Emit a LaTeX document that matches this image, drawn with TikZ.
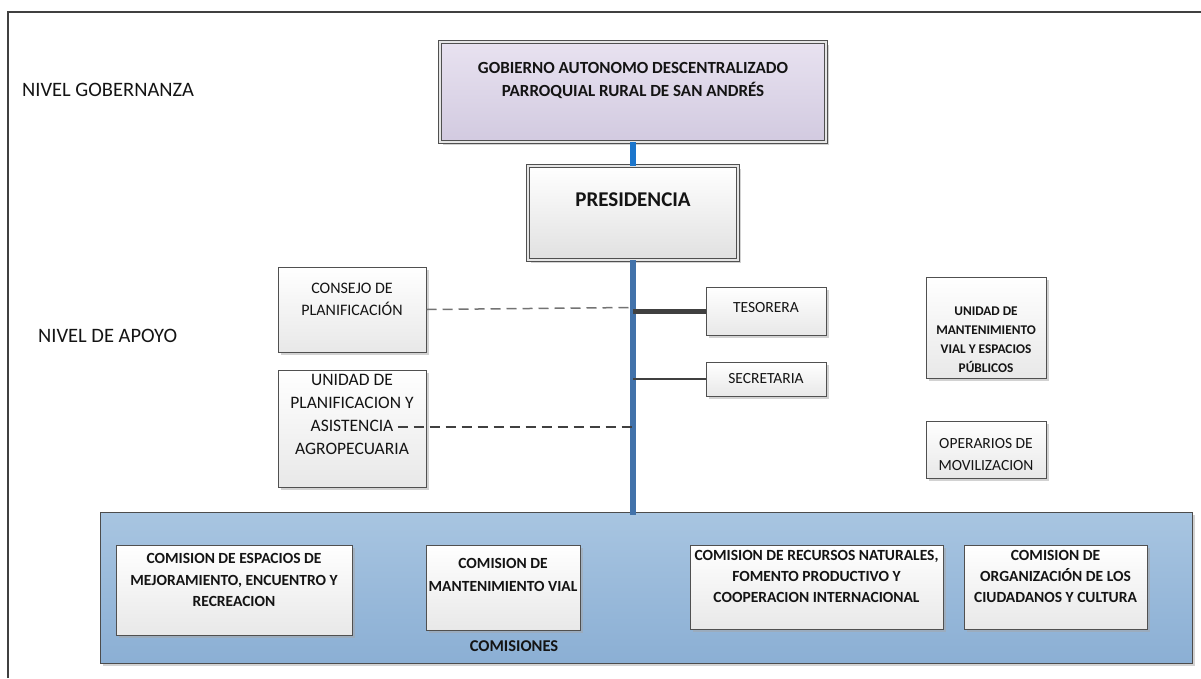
\documentclass[tikz,border=0pt]{standalone}
\usepackage{fontspec}
\setmainfont{Carlito}
\usetikzlibrary{calc,positioning,shadows}
\definecolor{lavanda}{RGB}{232,226,240}
\definecolor{lavandaosc}{RGB}{210,202,224}
\definecolor{azulcaja}{RGB}{168,197,225}
\definecolor{azulcajaosc}{RGB}{139,175,212}
\definecolor{azultronco}{RGB}{66,114,170}
\definecolor{azulclaro}{RGB}{28,118,204}
\definecolor{grisborde}{RGB}{80,80,80}
\tikzset{
  caja/.style={
    draw=grisborde,
    line width=1pt,
    top color=white,
    bottom color=black!9,
    drop shadow={shadow xshift=3pt, shadow yshift=-3pt, fill=black!35, opacity=.5},
    inner sep=0pt
  },
  cajadoble/.style={
    caja,
    double=white!90!black,
    double distance=2.5pt,
    line width=.9pt
  },
  rotb/.style 2 args={
    align=center,
    inner sep=0pt,
    text=black!92,
    font=\bfseries\fontsize{#1}{#2}\selectfont
  },
  rotr/.style 2 args={
    align=center,
    inner sep=0pt,
    text=black!92,
    font=\fontsize{#1}{#2}\selectfont
  },
  marco/.style={
    draw=black!75,
    line width=1.5pt
  },
  tronco/.style={
    line width=6pt,
    azultronco
  },
  rama/.style={
    line width=2.5pt,
    black!75
  },
  guion/.style={
    dash pattern=on 10pt off 6pt,
    line width=1.5pt
  }
}
\begin{document}
\begin{tikzpicture}[x=1pt,y=-1pt]
\useasboundingbox (0,0) rectangle (1201,678);
% marco
\draw[marco] (8,678) -- (8,12) -- (1201,12);
% niveles
\node[rotr={20.5}{24}, anchor=west] (gobernanza) at (22,90) {NIVEL GOBERNANZA};
\node[rotr={20.5}{24}, anchor=west] (apoyo) at (38,336) {NIVEL DE APOYO};
% nivel gobernanza
\node[cajadoble, top color=lavanda, bottom color=lavandaosc, minimum width=386pt, minimum height=100pt] (gad) at (633,92) {};
\node[rotb={17}{23}, below=21pt of gad.north] (gadtxt) {GOBIERNO AUTONOMO DESCENTRALIZADO\\PARROQUIAL RURAL DE SAN ANDRÉS};
\node[cajadoble, bottom color=black!12, minimum width=210pt, minimum height=94pt] (pres) at (633,213) {};
\node[rotb={21}{25}, below=27pt of pres.north] (prestxt) {PRESIDENCIA};
% nivel de apoyo
\node[caja, minimum width=148pt, minimum height=85pt] (consejo) at (352,309.5) {};
\node[rotr={16}{22}, below=16pt of consejo.north] (consejotxt) {CONSEJO DE\\PLANIFICACIÓN};
\node[caja, minimum width=148pt, minimum height=117pt] (upa) at (352,428.5) {};
\node[rotr={17.5}{23}, below=5pt of upa.north] (upatxt) {UNIDAD DE\\PLANIFICACION Y\\ASISTENCIA\\AGROPECUARIA};
\node[caja, minimum width=120pt, minimum height=48pt] (tes) at (766,311) {};
\node[rotr={15.5}{20}, below=16pt of tes.north] (testxt) {TESORERA};
\node[caja, minimum width=120pt, minimum height=34pt] (sec) at (766,379) {};
\node[rotr={15.5}{20}, below=12pt of sec.north] (sectxt) {SECRETARIA};
\node[caja, minimum width=120pt, minimum height=101pt] (umv) at (986,327.5) {};
\node[rotb={13.3}{19}, below=30pt of umv.north] (umvtxt) {UNIDAD DE\\MANTENIMIENTO\\VIAL Y ESPACIOS\\PÚBLICOS};
\node[caja, minimum width=120pt, minimum height=57pt] (ope) at (986,449.5) {};
\node[rotr={15.5}{22}, below=18pt of ope.north] (opetxt) {OPERARIOS DE\\MOVILIZACION};
% comisiones
\node[caja, draw=black!70, top color=azulcaja, bottom color=azulcajaosc, minimum width=1092pt, minimum height=151pt] (com) at (646,587.5) {};
\node[caja, minimum width=236pt, minimum height=90pt] (c1) at (234,590) {};
\node[rotb={15.5}{21.5}, below=9pt of c1.north] (c1txt) {COMISION DE ESPACIOS DE\\MEJORAMIENTO, ENCUENTRO Y\\RECREACION};
\node[caja, minimum width=154pt, minimum height=85pt] (c2) at (503,587.5) {};
\node[rotb={15.5}{23}, below=14pt of c2.north] (c2txt) {COMISION DE\\MANTENIMIENTO VIAL};
\node[caja, minimum width=253pt, minimum height=84pt] (c3) at (816.5,587) {};
\node[rotb={15.5}{21}, below=6pt of c3.north] (c3txt) {COMISION DE RECURSOS NATURALES,\\FOMENTO PRODUCTIVO Y\\COOPERACION INTERNACIONAL};
\node[caja, minimum width=183pt, minimum height=84pt] (c4) at (1055.5,587) {};
\node[rotb={15.5}{21}, below=6pt of c4.north] (c4txt) {COMISION DE\\ORGANIZACIÓN DE LOS\\CIUDADANOS Y CULTURA};
\node[rotb={16.5}{20}] (comtxt) at (514,646) {COMISIONES};
% conectores
\draw[tronco, azulclaro] (gad) -- (pres);
\draw[tronco, shorten >=-3pt] (pres.south) -- (pres.south |- com.north);
\draw[rama, line width=5pt] (pres.south |- tes.west) -- (tes.west);
\draw[rama] (pres.south |- sec.west) -- (sec.west);
\draw[guion, black!55] (consejo.east) -- ($(pres.south |- consejo.east)+(-2,-2)$);
\coordinate (upafin) at ($(upa.east)+(-29,-1.5)$);
\draw[guion, black!75] (upafin) -- (pres.south |- upafin);
\end{tikzpicture}
\end{document}
